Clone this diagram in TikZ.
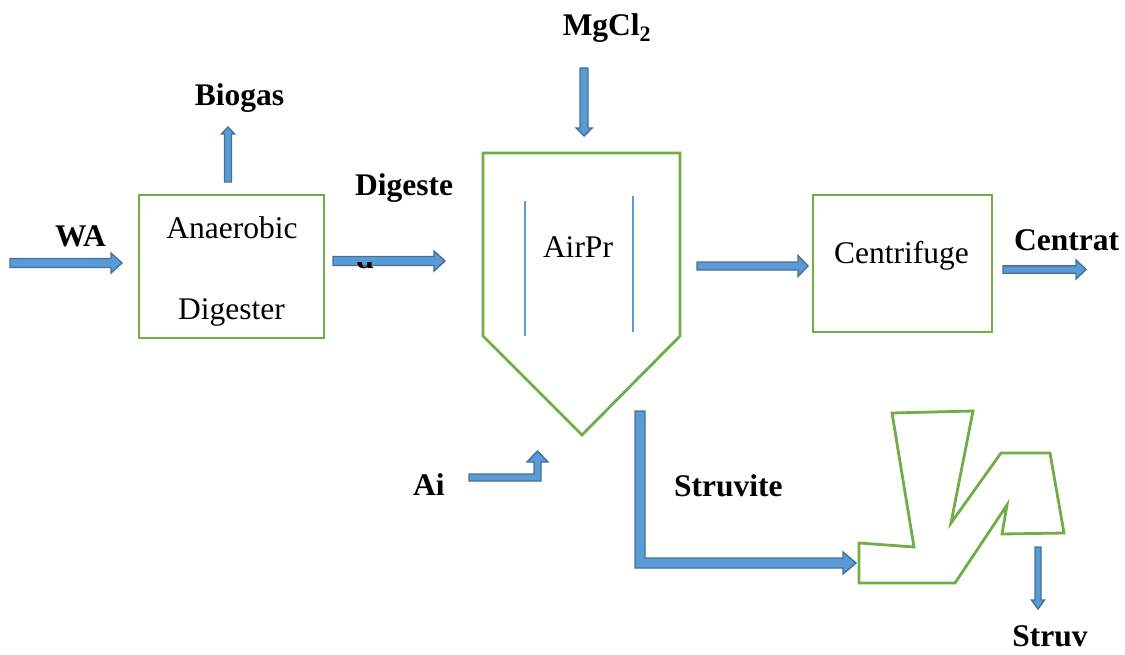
\documentclass[tikz,border=0pt]{standalone}
\usepackage{fontspec}
\setmainfont{Liberation Serif}
\newcommand\blkR[6]{\draw[blockarrow] (#1,{#3-#4}) -- ({#2-#6},{#3-#4}) -- ({#2-#6},{#3-#5}) -- (#2,#3) -- ({#2-#6},{#3+#5}) -- ({#2-#6},{#3+#4}) -- (#1,{#3+#4}) -- cycle;}
\newcommand\blkD[6]{\draw[blockarrow] ({#1-#4},#2) -- ({#1-#4},{#3-#6}) -- ({#1-#5},{#3-#6}) -- (#1,#3) -- ({#1+#5},{#3-#6}) -- ({#1+#4},{#3-#6}) -- ({#1+#4},#2) -- cycle;}
\newcommand\blkU[6]{\draw[blockarrow] ({#1-#4},#2) -- ({#1-#4},{#3+#6}) -- ({#1-#5},{#3+#6}) -- (#1,#3) -- ({#1+#5},{#3+#6}) -- ({#1+#4},{#3+#6}) -- ({#1+#4},#2) -- cycle;}
\definecolor{arrfill}{HTML}{5B9BD5}
\definecolor{arrline}{HTML}{41719C}
\definecolor{boxgreen}{HTML}{70AD47}
\begin{document}
\begin{tikzpicture}[x=1pt,y=-1pt,
  blockarrow/.style={fill=arrfill,draw=arrline,line width=1.4pt,line join=miter},
  unit/.style={draw=boxgreen,line width=2.8pt},
  lbl/.style={inner sep=0pt,font=\fontsize{31.5}{36}\selectfont\bfseries},
  txt/.style={inner sep=0pt,font=\fontsize{31.5}{36}\selectfont},
  baffle/.style={draw=arrfill,line width=1.2pt}]
\useasboundingbox (0,0) rectangle (1125,654);
% units
\draw[unit] (139,195) rectangle (324,338);
\draw[unit] (813,195) rectangle (992,332);
\draw[unit] (483,153) -- (680,153) -- (680,336) -- (582,435) -- (483,336) -- cycle;
\draw[unit] (859,543) -- (914,547) -- (892,413) -- (973,411) -- (951,523) -- (1001,453) -- (1050,453) -- (1064,533) -- (1002,534) -- (1007,505) -- (955,583) -- (859,583) -- cycle;
% baffles
\draw[baffle] (525,201) -- (525,336);
\draw[baffle] (633,196) -- (633,332);
% texts
\node[txt,anchor=base] (an) at (232,238) {Anaerobic};
\node[txt,anchor=base] (dg) at (231.5,319) {Digester};
\node[txt,anchor=base] (ap) at (578,257) {AirPr};
\node[txt,anchor=base] (cf) at (901.5,263) {Centrifuge};
\node[lbl,anchor=base] (wa) at (80.5,246) {WA};
\node[lbl,anchor=base] (bg) at (239.5,105) {Biogas};
\node[lbl,anchor=base west] (dgt) at (355,195) {Digeste};
\node[lbl,anchor=base] (mg) at (607,35) {MgCl\textsubscript{2}};
\node[lbl,anchor=base west] (ct) at (1014,250) {Centrat};
\node[lbl,anchor=base west] (ai) at (413,495) {Ai};
\node[lbl,anchor=base west] (sv) at (674,496) {Struvite};
\node[lbl,anchor=base] (st) at (1050,646) {Struv};
% arrows
\blkR{10}{122}{263}{4.5}{10}{11}
\blkR{333}{445}{261}{4.5}{10}{11}
\blkR{697}{808}{266}{4}{10.5}{10}
\blkR{1003}{1086}{269.5}{3.7}{9.5}{10}
\blkU{228}{182}{127}{3.5}{6.5}{7}
\blkD{584}{68}{136}{4}{8}{8}
\blkD{1038}{547}{609}{3}{6.5}{9}
\draw[blockarrow] (469,474) -- (534,474) -- (534,462) -- (527,462) -- (537.5,451) -- (548,462) -- (541,462) -- (541,481) -- (469,481) -- cycle;
\draw[blockarrow] (635,411) -- (645,411) -- (645,558) -- (843,558) -- (843,552) -- (856,563) -- (843,574) -- (843,568) -- (635,568) -- cycle;
% clipped letter
\begin{scope}
\clip (340,262) rectangle (400,285);
\node[lbl,anchor=base west] (dd) at (356,268) {d};
\end{scope}
\end{tikzpicture}
\end{document}
